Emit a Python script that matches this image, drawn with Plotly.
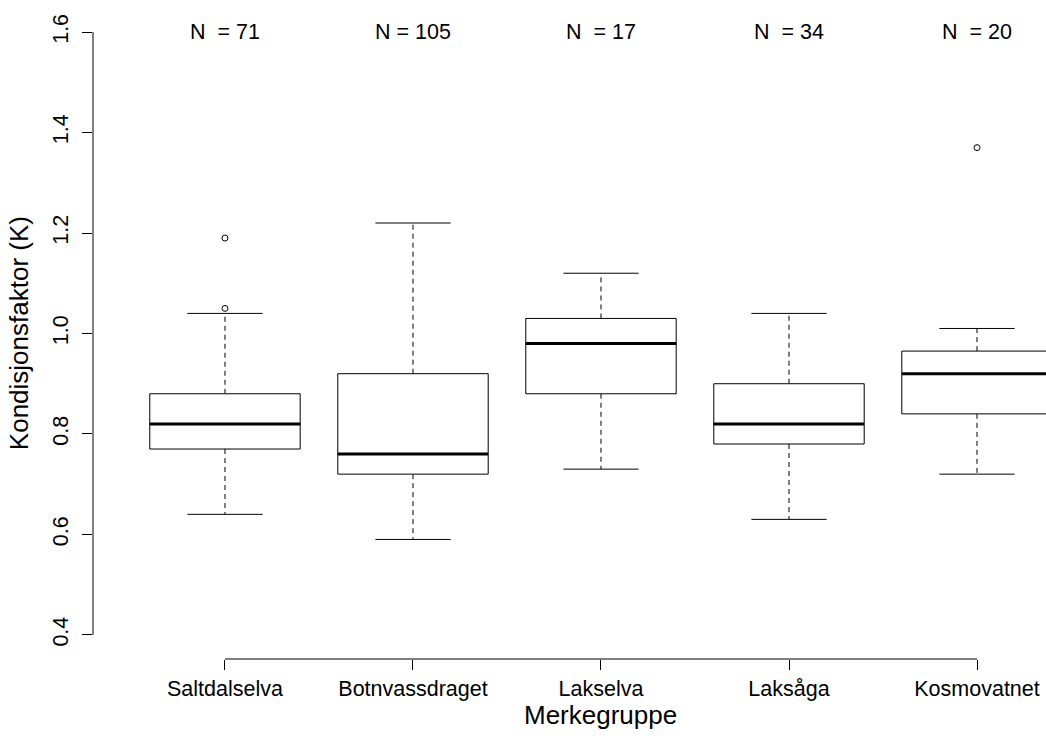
import plotly.graph_objects as go

categories = ["Saltdalselva", "Botnvassdraget", "Lakselva", "Laksåga", "Kosmovatnet"]
counts = [71, 105, 17, 34, 20]
n_labels = ["N\u00a0\u00a0= 71", "N = 105", "N\u00a0\u00a0= 17", "N\u00a0\u00a0= 34", "N\u00a0\u00a0= 20"]
lower_whisker = [0.64, 0.59, 0.73, 0.63, 0.72]
q1 = [0.77, 0.72, 0.88, 0.78, 0.84]
median = [0.82, 0.76, 0.98, 0.82, 0.92]
q3 = [0.88, 0.92, 1.03, 0.90, 0.965]
upper_whisker = [1.04, 1.22, 1.12, 1.04, 1.01]
outlier_group = [0, 0, 4]
outlier_value = [1.05, 1.19, 1.37]
y_ticks = [0.4, 0.6, 0.8, 1.0, 1.2, 1.4, 1.6]

FONT = "Liberation Sans, Arial, sans-serif"
FS = 21.5
BW = 0.4   # half box width
CW = 0.2   # half cap width

box_x, box_y = [], []
med_x, med_y = [], []
wh_x, wh_y = [], []
cap_x, cap_y = [], []
for i in range(len(categories)):
    box_x += [i - BW, i + BW, i + BW, i - BW, i - BW, None]
    box_y += [q1[i], q1[i], q3[i], q3[i], q1[i], None]
    med_x += [i - BW, i + BW, None]
    med_y += [median[i], median[i], None]
    wh_x += [i, i, None, i, i, None]
    wh_y += [q3[i], upper_whisker[i], None, q1[i], lower_whisker[i], None]
    cap_x += [i - CW, i + CW, None, i - CW, i + CW, None]
    cap_y += [upper_whisker[i], upper_whisker[i], None, lower_whisker[i], lower_whisker[i], None]

fig = go.Figure()
fig.add_trace(go.Scatter(x=wh_x, y=wh_y, mode="lines",
                         line=dict(color="black", width=1, dash="5px,4px"), hoverinfo="skip"))
fig.add_trace(go.Scatter(x=cap_x, y=cap_y, mode="lines",
                         line=dict(color="black", width=1), hoverinfo="skip"))
fig.add_trace(go.Scatter(x=box_x, y=box_y, mode="lines", fill="toself", fillcolor="white",
                         line=dict(color="black", width=1), hoverinfo="skip"))
fig.add_trace(go.Scatter(x=med_x, y=med_y, mode="lines",
                         line=dict(color="black", width=3), hoverinfo="skip"))
fig.add_trace(go.Scatter(x=outlier_group, y=outlier_value, mode="markers",
                         marker=dict(symbol="circle-open", size=6, color="black", line=dict(width=1)),
                         hoverinfo="skip"))

for i, t in enumerate(n_labels):
    fig.add_annotation(x=i, y=1.6, xref="x", yref="y", text=t, showarrow=False,
                       xanchor="center", yanchor="middle",
                       font=dict(family=FONT, size=FS, color="black"))

fig.add_annotation(x=(len(categories) - 1) / 2, y=-0.086, xref="x", yref="paper",
                   text="Merkegruppe", showarrow=False, xanchor="center", yanchor="middle",
                   font=dict(family=FONT, size=26, color="black"))
fig.add_annotation(x=-0.078, y=0.5, xref="paper", yref="paper",
                   text="Kondisjonsfaktor (K)", showarrow=False, textangle=-90,
                   xanchor="center", yanchor="middle",
                   font=dict(family=FONT, size=26, color="black"))

# R-style axis lines spanning only the tick range
fig.add_shape(type="line", xref="x", yref="paper", x0=0, x1=len(categories) - 1, y0=0, y1=0,
              line=dict(color="black", width=1))
fig.add_shape(type="line", xref="paper", yref="y", x0=0, x1=0, y0=y_ticks[0], y1=y_ticks[-1],
              line=dict(color="black", width=1))

fig.update_layout(
    width=1046, height=736,
    margin=dict(l=93, r=0, t=8, b=77),
    paper_bgcolor="white", plot_bgcolor="white",
    showlegend=False,
    hovermode=False,
    font=dict(family=FONT, size=FS, color="black"),
    xaxis=dict(range=[-0.702, 4.367], tickmode="array", tickvals=list(range(len(categories))),
               ticktext=categories, ticks="outside", ticklen=10, tickcolor="black",
               showgrid=False, zeroline=False, showline=False,
               tickfont=dict(family=FONT, size=FS, color="black")),
    yaxis=dict(range=[0.352, 1.648], tickmode="array", tickvals=y_ticks,
               ticktext=[f"{v:.1f}" for v in y_ticks], ticks="outside", ticklen=10,
               tickcolor="black", tickangle=-90, showgrid=False, zeroline=False, showline=False,
               ticklabelstandoff=5,
               tickfont=dict(family=FONT, size=FS, color="black")),
)

fig.write_html("out.html", config={"displayModeBar": False},
               post_script="document.body.style.margin='0';")
